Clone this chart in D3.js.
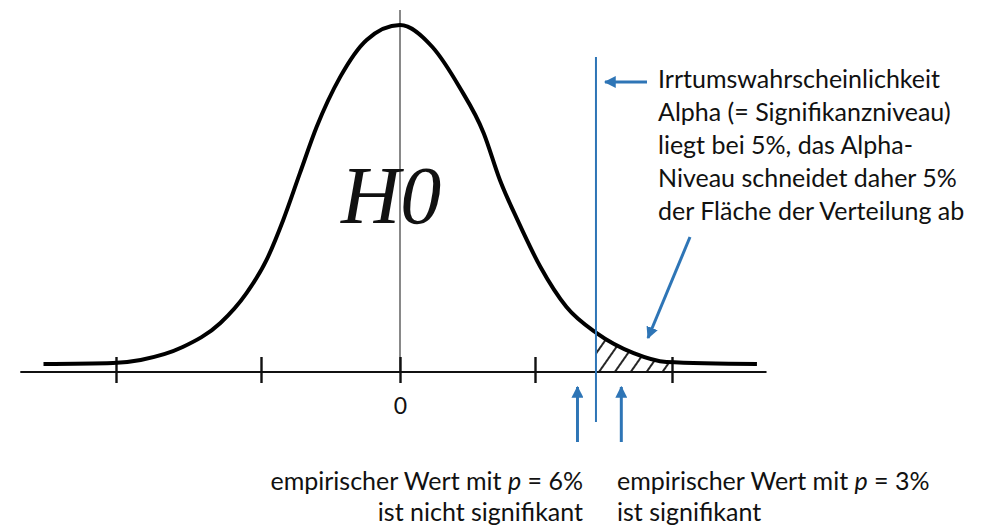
<!DOCTYPE html>
<html>
<head>
<meta charset="utf-8">
<script src="https://cdnjs.cloudflare.com/ajax/libs/d3/7.8.5/d3.min.js"></script>
<style>
  body { margin: 0; background: #fff; }
  svg { display: block; }
  text { font-family: Lato, "Open Sans", sans-serif; fill: #111; }
</style>
</head>
<body>
<div id="chart"></div>
<script>
// axis ticks (units of the drawn axis)
const tickValues = [-2, -1, 0, 1, 2];
const tickLabels = ['', '', '0', '', ''];

// curve: position on the axis, height relative to the peak
const curveX = [-2.50, -2.02, -1.83, -1.54, -1.28, -1.10, -0.96, -0.84, -0.72, -0.60, -0.43, -0.24, 0,
  0.24, 0.44, 0.62, 0.74, 0.87, 1.04, 1.23, 1.45, 1.72, 1.96, 2.62];
const curveY = [0, 0.003, 0.012, 0.05, 0.121, 0.209, 0.307, 0.425, 0.563, 0.699, 0.847, 0.956, 1,
  0.935, 0.817, 0.681, 0.543, 0.425, 0.286, 0.168, 0.091, 0.032, 0.006, 0];

const alphaCrit = 1.445;            // 5 % cut-off
const shadeEnd = 2;
const empiricalValues = [1.31, 1.63]; // p = 6 %, p = 3 %

const alphaNote = ['Irrtumswahrscheinlichkeit', 'Alpha (= Signifikanzniveau)', 'liegt bei 5%, das Alpha-',
  'Niveau schneidet daher 5%', 'der Fläche der Verteilung ab'];
const leftNote = [['empirischer Wert mit ', 'p', ' = 6%'], ['ist nicht signifikant']];
const rightNote = [['empirischer Wert mit ', 'p', ' = 3%'], ['ist signifikant']];

const width = 993;
const height = 527;
const blue = '#2e75b6';
const axisY = 372;
const fontSize = '25px';

const x = d3.scaleLinear()
  .domain(tickValues)
  .range([116, 261, 400, 535, 672]);

const y = d3.scaleLinear()
  .domain([0, 1])
  .range([364, 25]);

const svg = d3.select('#chart').append('svg')
  .attr('width', width)
  .attr('height', height);

const defs = svg.append('defs');

defs.append('marker')
  .attr('id', 'arrow')
  .attr('viewBox', '0 0 10 10')
  .attr('refX', 9)
  .attr('refY', 5)
  .attr('markerWidth', 4)
  .attr('markerHeight', 4)
  .attr('markerUnits', 'strokeWidth')
  .attr('orient', 'auto')
  .append('path')
  .attr('d', 'M0,0 L10,5 L0,10 z')
  .attr('fill', blue);

const hatch = defs.append('pattern')
  .attr('id', 'hatch')
  .attr('patternUnits', 'userSpaceOnUse')
  .attr('width', 13)
  .attr('height', 13)
  .attr('patternTransform', 'rotate(35)');
hatch.append('line')
  .attr('x1', 2).attr('x2', 2)
  .attr('y1', 0).attr('y2', 13)
  .attr('stroke', '#000')
  .attr('stroke-width', 1.7);

defs.append('clipPath')
  .attr('id', 'tail')
  .append('rect')
  .attr('x', x(alphaCrit))
  .attr('y', 0)
  .attr('width', x(shadeEnd) - x(alphaCrit))
  .attr('height', axisY);

const points = curveX.map((d, i) => [d, curveY[i]]);

// hatched rejection area
svg.append('path')
  .datum(points)
  .attr('clip-path', 'url(#tail)')
  .attr('fill', 'url(#hatch)')
  .attr('d', d3.area()
    .x(d => x(d[0]))
    .y0(axisY)
    .y1(d => y(d[1]))
    .curve(d3.curveMonotoneX));

// centre line
svg.append('line')
  .attr('x1', x(0)).attr('x2', x(0))
  .attr('y1', 10).attr('y2', axisY)
  .attr('stroke', '#6b6b6b')
  .attr('stroke-width', 1.6);

// axis line + ticks
svg.append('line')
  .attr('x1', x(-2.66)).attr('x2', x(2.69))
  .attr('y1', axisY).attr('y2', axisY)
  .attr('stroke', '#111')
  .attr('stroke-width', 2);

const axis = svg.append('g')
  .attr('transform', `translate(0,${axisY - 15})`)
  .call(d3.axisBottom(x)
    .tickValues(tickValues)
    .tickSize(26)
    .tickPadding(15)
    .tickFormat((d, i) => tickLabels[i]));
axis.select('.domain').remove();
axis.selectAll('.tick line').attr('stroke', '#111').attr('stroke-width', 2.4);
axis.selectAll('.tick text')
  .style('font-family', 'Lato, sans-serif')
  .style('font-size', '23px')
  .attr('fill', '#111');

// the curve
svg.append('path')
  .datum(points)
  .attr('fill', 'none')
  .attr('stroke', '#000')
  .attr('stroke-width', 4)
  .attr('d', d3.line()
    .x(d => x(d[0]))
    .y(d => y(d[1]))
    .curve(d3.curveMonotoneX));

svg.append('text')
  .attr('x', 341)
  .attr('y', 223)
  .style('font-family', '"Liberation Serif", "DejaVu Serif", serif')
  .style('font-style', 'italic')
  .style('font-size', '82px')
  .text('H0');

// alpha line
svg.append('line')
  .attr('x1', x(alphaCrit)).attr('x2', x(alphaCrit))
  .attr('y1', 57).attr('y2', 422)
  .attr('stroke', blue)
  .attr('stroke-width', 2);

// arrows
const arrows = [
  [647, 82, x(alphaCrit) + 9, 82],
  [690, 237, 648, 338],
  [x(empiricalValues[0]), 442, x(empiricalValues[0]), 387],
  [x(empiricalValues[1]), 442, x(empiricalValues[1]), 387]
];
svg.selectAll('.arrow')
  .data(arrows)
  .enter()
  .append('line')
  .attr('class', 'arrow')
  .attr('x1', d => d[0]).attr('y1', d => d[1])
  .attr('x2', d => d[2]).attr('y2', d => d[3])
  .attr('stroke', blue)
  .attr('stroke-width', 3)
  .attr('marker-end', 'url(#arrow)');

// annotation text
svg.append('g')
  .selectAll('text')
  .data(alphaNote)
  .enter()
  .append('text')
  .attr('x', 658)
  .attr('y', (d, i) => 88 + i * 33)
  .style('font-size', fontSize)
  .text(d => d);

const addNote = function (lines, xPos, anchor) {
  lines.forEach((parts, i) => {
    const t = svg.append('text')
      .attr('x', xPos)
      .attr('y', 490 + i * 31)
      .attr('text-anchor', anchor)
      .style('font-size', fontSize);
    parts.forEach((p, j) => {
      t.append('tspan')
        .style('font-style', j === 1 ? 'italic' : 'normal')
        .text(p);
    });
  });
};
addNote(leftNote, 583, 'end');
addNote(rightNote, 617, 'start');
</script>
</body>
</html>
